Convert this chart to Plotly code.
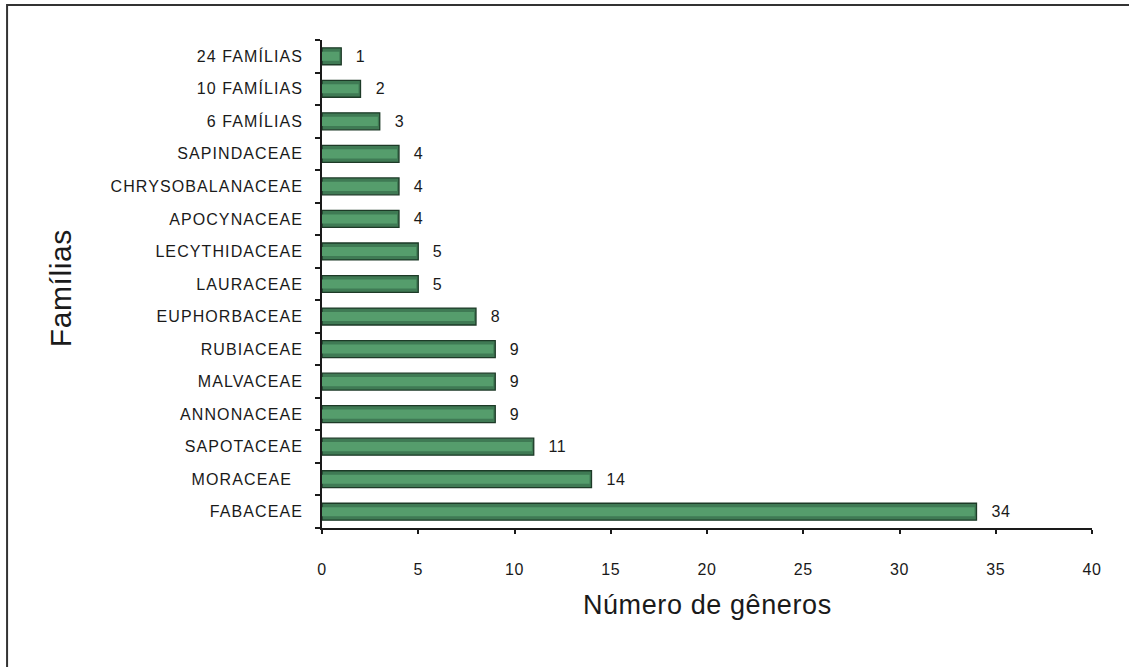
import plotly.graph_objects as go

# Number of genera per botanical family (bottom to top)
familias = [
    "FABACEAE", "MORACEAE\u00a0\u00a0", "SAPOTACEAE", "ANNONACEAE", "MALVACEAE",
    "RUBIACEAE", "EUPHORBACEAE", "LAURACEAE", "LECYTHIDACEAE", "APOCYNACEAE",
    "CHRYSOBALANACEAE", "SAPINDACEAE", "6 FAMÍLIAS", "10 FAMÍLIAS", "24 FAMÍLIAS",
]
generos = [34, 14, 11, 9, 9, 9, 8, 5, 5, 4, 4, 4, 3, 2, 1]
x_ticks = [0, 5, 10, 15, 20, 25, 30, 35, 40]

FONT = "Liberation Sans, Arial, sans-serif"
INK = "#1a1a1a"

fig = go.Figure()

# main bar body
fig.add_trace(go.Bar(
    x=generos, y=familias, orientation="h", width=0.52,
    marker=dict(color="#3f7a54", line=dict(color="#1d3a27", width=1.3)),
    hoverinfo="skip", showlegend=False,
))
# lighter central band for the shaded look
fig.add_trace(go.Bar(
    x=[v - 0.1 for v in generos], y=familias, orientation="h", width=0.28,
    marker=dict(color="#559d6c", line=dict(width=0)),
    hoverinfo="skip", showlegend=False,
))

# value labels at the end of each bar
for fam, val in zip(familias, generos):
    fig.add_annotation(
        x=val, y=fam, text=str(val), showarrow=False,
        xanchor="left", yanchor="middle", xshift=13,
        font=dict(family=FONT, size=16, color=INK),
    )

# axis titles
fig.add_annotation(
    x=0.5, y=-0.158, xref="paper", yref="paper", text="Número de gêneros",
    showarrow=False, xanchor="center", yanchor="middle",
    font=dict(family=FONT, size=27, color=INK),
)
fig.add_annotation(
    x=-0.339, y=0.492, xref="paper", yref="paper", text="Famílias",
    showarrow=False, xanchor="center", yanchor="middle", textangle=-90,
    font=dict(family=FONT, size=30, color=INK),
)

# outer frame
fig.add_shape(
    type="rect", xref="paper", yref="paper",
    x0=-0.409, x1=1.2, y0=-0.4, y1=1.0717,
    line=dict(color="#333333", width=2), fillcolor="rgba(0,0,0,0)",
)

fig.update_layout(
    width=1129, height=667,
    margin=dict(l=322, r=37, t=40, b=139, pad=0),
    paper_bgcolor="white", plot_bgcolor="white",
    barmode="overlay", bargap=0.5,
    font=dict(family=FONT, size=16, color=INK),
)

fig.update_xaxes(
    range=[0, 40], tickvals=x_ticks, ticktext=[str(t) for t in x_ticks],
    showgrid=False, zeroline=False,
    showline=True, linecolor=INK, linewidth=1.5,
    ticks="outside", ticklen=4, tickcolor=INK, tickwidth=1.5,
    ticklabelstandoff=22,
    tickfont=dict(family=FONT, size=16, color=INK),
)
fig.update_yaxes(
    type="category", categoryorder="array", categoryarray=familias,
    range=[-0.5, 14.5], showgrid=False, zeroline=False,
    showline=True, linecolor=INK, linewidth=1.5,
    ticks="outside", ticklen=5, tickcolor=INK, tickwidth=1.5,
    tickson="boundaries", ticklabelstandoff=14,
    tickfont=dict(family=FONT, size=16, color=INK),
)

# widen the lettering a little
post = """
var s = document.createElement('style');
s.textContent = '.ytick text{letter-spacing:1.1px} .xtick text{letter-spacing:0.5px} .annotation-text{letter-spacing:0.6px}';
document.head.appendChild(s);
"""

fig.write_html("out.html", post_script=post)
